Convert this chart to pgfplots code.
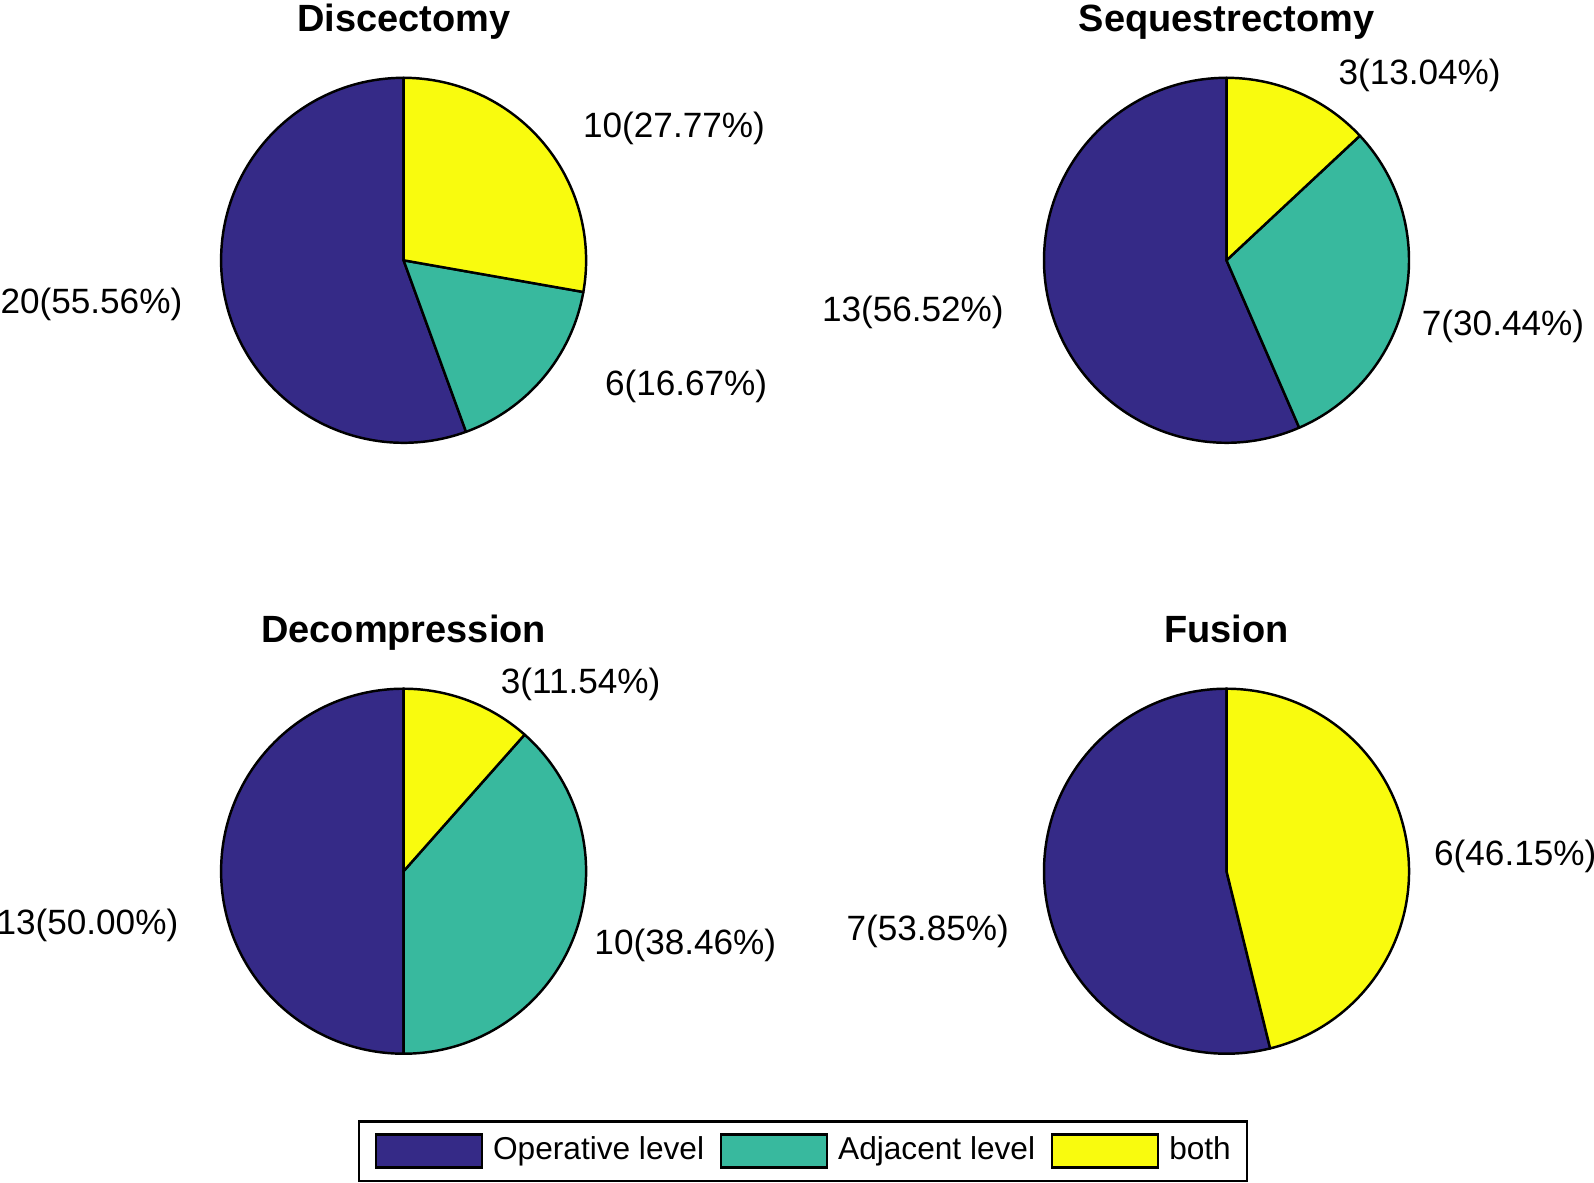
\documentclass[border=0pt]{standalone}
\usepackage{pgfplots}
\pgfplotsset{compat=1.18}
\usepackage{fontspec}
\setmainfont{Liberation Sans}
\definecolor{opc}{HTML}{352A87}
\definecolor{adjc}{HTML}{38B99E}
\definecolor{bothc}{HTML}{F9FB0E}
\newcommand{\R}{1.825cm}
\newcommand{\lbl}{\fontsize{10}{12}\selectfont}
% one wedge: colour, start angle, end angle (MATLAB pie: counter-clockwise from the top)
\newcommand{\slice}[3]{\fill[#1, draw=black, line width=0.7pt, line join=round] (axis cs:0,0) -- ++({#2}:\R) arc[start angle={#2}, end angle={#3}, radius=\R] -- cycle;}
% counts: operative, adjacent, both
\newcommand{\piechart}[3]{%
  \slice{opc}{90}{90+360*#1/(#1+#2+#3)}%
  \ifnum#2>0 \slice{adjc}{90+360*#1/(#1+#2+#3)}{90+360*(#1+#2)/(#1+#2+#3)}\fi
  \ifnum#3>0 \slice{bothc}{90+360*(#1+#2)/(#1+#2+#3)}{450}\fi}
\pgfplotsset{pie/.style={x=\R, y=\R, xmin=-1, xmax=1, ymin=-1, ymax=1,
  hide axis, clip=false, anchor=center,
  title style={font=\bfseries\fontsize{10.8}{13}\selectfont,
    at={(axis description cs:0.5,1.07)}, anchor=base}}}
\begin{document}
\begin{tikzpicture}
\path[use as bounding box] (0,0) rectangle (15.94,11.82);
% Discectomy
\begin{axis}[pie, at={(4.036cm,9.217cm)}, title={Discectomy}]
\piechart{20}{6}{10}
\node[anchor=west, inner sep=0pt, font=\lbl] at (axis cs:0.980,0.724) {10(27.77\%)};
\node[anchor=west, inner sep=0pt, font=\lbl] at (axis cs:1.100,-0.690) {6(16.67\%)};
\node[anchor=east, inner sep=0pt, font=\lbl] at (axis cs:-1.209,-0.242) {20(55.56\%)};
\end{axis}
% Sequestrectomy
\begin{axis}[pie, at={(12.265cm,9.217cm)}, title={Sequestrectomy}]
\piechart{13}{7}{3}
\node[anchor=west, inner sep=0pt, font=\lbl] at (axis cs:0.610,1.014) {3(13.04\%)};
\node[anchor=west, inner sep=0pt, font=\lbl] at (axis cs:1.067,-0.362) {7(30.44\%)};
\node[anchor=east, inner sep=0pt, font=\lbl] at (axis cs:-1.217,-0.284) {13(56.52\%)};
\end{axis}
% Decompression (carries the legend)
\begin{axis}[pie, at={(4.036cm,3.108cm)}, title={Decompression},
  legend columns=3,
  legend cell align=left,
  legend image code/.code={\draw[#1] (0cm,-0.165cm) rectangle (1.06cm,0.165cm);},
  legend style={at={(axis description cs:1.594,-0.2666)}, anchor=center,
    draw=black, line width=0.6pt, fill=white,
    font=\fontsize{9}{11}\selectfont,
    inner xsep=0.16cm, inner ysep=0.12cm,
    nodes={inner sep=0pt},
    /tikz/every odd column/.append style={column sep=0.10cm},
    /tikz/every even column/.append style={column sep=0.16cm}}]
\piechart{13}{10}{3}
\node[anchor=west, inner sep=0pt, font=\lbl] at (axis cs:0.529,1.025) {3(11.54\%)};
\node[anchor=west, inner sep=0pt, font=\lbl] at (axis cs:1.042,-0.407) {10(38.46\%)};
\node[anchor=east, inner sep=0pt, font=\lbl] at (axis cs:-1.231,-0.295) {13(50.00\%)};
\addlegendimage{fill=opc, draw=black, line width=0.6pt}
\addlegendentry{Operative level}
\addlegendimage{fill=adjc, draw=black, line width=0.6pt}
\addlegendentry{Adjacent level}
\addlegendimage{fill=bothc, draw=black, line width=0.6pt}
\addlegendentry{both}
\end{axis}
% Fusion
\begin{axis}[pie, at={(12.265cm,3.108cm)}, title={Fusion}]
\piechart{7}{0}{6}
\node[anchor=west, inner sep=0pt, font=\lbl] at (axis cs:1.134,0.083) {6(46.15\%)};
\node[anchor=east, inner sep=0pt, font=\lbl] at (axis cs:-1.189,-0.329) {7(53.85\%)};
\end{axis}
\end{tikzpicture}
\end{document}
